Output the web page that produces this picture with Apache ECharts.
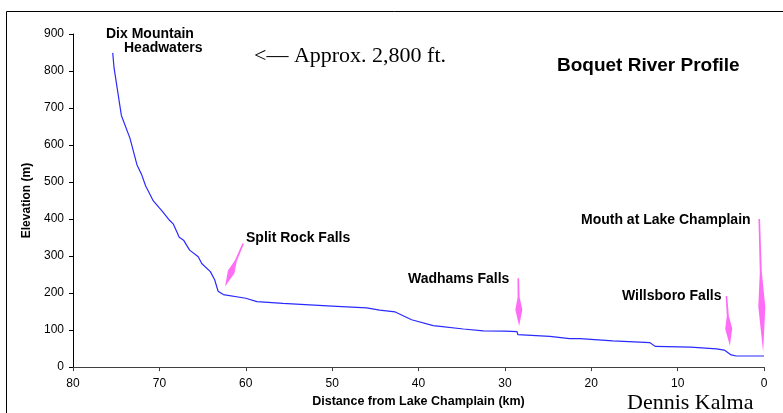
<!DOCTYPE html>
<html>
<head>
<meta charset="utf-8">
<script src="https://cdn.jsdelivr.net/npm/echarts@6/dist/echarts.min.js"></script>
<style>
  html, body { margin: 0; padding: 0; background: #fff; overflow: hidden; }
  #main { width: 783px; height: 413px; }
</style>
</head>
<body>
<div id="main"></div>
<script>
// river profile: distance from lake (km) and elevation (m)
var distKm = [75.4, 75.25, 74.4, 73.4, 72.6, 72.05, 71.6, 70.7, 70.0, 69.7, 68.8, 68.4, 67.7, 67.2, 66.5, 65.5, 65.1, 64.1, 63.6, 63.2, 62.6, 60.0, 58.7, 55.7, 50.0, 46.0, 44.5, 42.7, 40.8, 38.3, 37.5, 34.8, 32.5, 30.0, 28.6, 28.5, 24.8, 22.5, 21.3, 17.5, 13.2, 12.6, 8.5, 5.5, 4.6, 3.8, 3.2, 0];
var elevM = [849, 809, 680, 618, 547, 520, 490, 449, 430, 422, 396, 387, 351, 343, 316, 298, 280, 258, 236, 205, 196, 186, 177, 172, 165, 160, 154, 149, 128, 112, 110, 103, 98, 97, 96, 88, 83, 77, 77, 71, 66, 56, 54, 49, 46, 33, 30, 30];

// pink arrows: start (km, m) -> tip (km, m)
var arrowFromKm = [60.3, 28.45, 4.35, 0.55];
var arrowFromM = [334, 240, 192, 400];
var arrowToKm = [62.4, 28.35, 3.95, 0.1];
var arrowToM = [218, 111, 58, 41];

var xTicks = [0, 80, 10];   // min, max, step
var yTicks = [0, 900, 100];

var profile = distKm.map(function (d, i) { return [d, elevM[i]]; });
var arrows = arrowFromKm.map(function (d, i) {
  return [d, arrowFromM[i], arrowToKm[i], arrowToM[i]];
});

var chart = echarts.init(document.getElementById('main'));

function renderArrow(params, api) {
  var a = api.coord([api.value(0), api.value(1)]);
  var b = api.coord([api.value(2), api.value(3)]);
  var dx = b[0] - a[0], dy = b[1] - a[1];
  var len = Math.sqrt(dx * dx + dy * dy);
  var nx = -dy / len, ny = dx / len;
  function at(t, w) {
    return [a[0] + dx * t + nx * w, a[1] + dy * t + ny * w];
  }
  var pts = [
    at(0, 0.8), at(0.4, 1), at(0.66, 3.5), at(1, 0),
    at(0.66, -3.5), at(0.4, -1), at(0, -0.8)
  ];
  return {
    type: 'polygon',
    shape: { points: pts },
    style: { fill: '#ff5cf5', stroke: null, opacity: 0.9 }
  };
}

var boldLbl = 'bold 14px "Liberation Sans", Arial, sans-serif';

var option = {
  backgroundColor: '#ffffff',
  animation: false,
  grid: { left: 73, right: 19, top: 34, bottom: 41 },
  xAxis: {
    type: 'value',
    inverse: true,
    min: xTicks[0], max: xTicks[1], interval: xTicks[2],
    name: 'Distance from Lake Champlain (km)',
    nameLocation: 'middle',
    nameGap: 25,
    nameTextStyle: { fontFamily: 'Liberation Sans', fontWeight: 'bold', fontSize: 12.5, color: '#000' },
    axisLine: { lineStyle: { color: '#404040', width: 1 } },
    axisTick: { show: true, length: 4, lineStyle: { color: '#404040' } },
    axisLabel: { fontFamily: 'Liberation Sans', fontSize: 12, color: '#000', margin: 11 },
    splitLine: { show: false }
  },
  yAxis: {
    type: 'value',
    position: 'left',
    min: yTicks[0], max: yTicks[1], interval: yTicks[2],
    name: 'Elevation (m)',
    nameLocation: 'middle',
    nameGap: 33,
    nameTextStyle: { fontFamily: 'Liberation Sans', fontWeight: 'bold', fontSize: 12, color: '#000' },
    axisLine: { show: true, onZero: false, lineStyle: { color: '#000', width: 1 } },
    axisTick: { show: true, length: 4, lineStyle: { color: '#000' } },
    axisLabel: { fontFamily: 'Liberation Sans', fontSize: 12, color: '#000', margin: 9 },
    splitLine: { show: false }
  },
  graphic: [
    // chart frame: only the top and left edges show in the picture
    { type: 'line', shape: { x1: 6.5, y1: 11.5, x2: 783, y2: 11.5 },
      style: { stroke: '#000', lineWidth: 1 }, silent: true },
    { type: 'line', shape: { x1: 6.5, y1: 11.5, x2: 6.5, y2: 413 },
      style: { stroke: '#000', lineWidth: 1 }, silent: true },
    { type: 'text', left: 106, top: 27, style: { text: 'Dix Mountain', font: boldLbl, fill: '#000' } },
    { type: 'text', left: 124, top: 41, style: { text: 'Headwaters', font: boldLbl, fill: '#000' } },
    { type: 'text', left: 254, top: 45,
      style: { text: '<\u2014 Approx. 2,800 ft.', font: '22px "Liberation Serif", "Times New Roman", serif', fill: '#000' } },
    { type: 'text', left: 557, top: 56,
      style: { text: 'Boquet River Profile', font: 'bold 19px "Liberation Sans", Arial, sans-serif', fill: '#000' } },
    { type: 'text', left: 246, top: 231, style: { text: 'Split Rock Falls', font: boldLbl, fill: '#000' } },
    { type: 'text', left: 408, top: 272, style: { text: 'Wadhams Falls', font: boldLbl, fill: '#000' } },
    { type: 'text', left: 622, top: 289, style: { text: 'Willsboro Falls', font: boldLbl, fill: '#000' } },
    { type: 'text', left: 581, top: 213, style: { text: 'Mouth at Lake Champlain', font: boldLbl, fill: '#000' } },
    { type: 'text', left: 627, top: 392,
      style: { text: 'Dennis Kalma', font: '22px "Liberation Serif", "Times New Roman", serif', fill: '#000' } }
  ],
  series: [
    {
      type: 'line',
      data: profile,
      showSymbol: false,
      symbol: 'none',
      lineStyle: { color: '#2a2aff', width: 1.2 },
      z: 3
    },
    {
      type: 'custom',
      data: arrows,
      renderItem: renderArrow,
      encode: { x: [0, 2], y: [1, 3] },
      z: 4
    }
  ]
};

chart.setOption(option);
</script>
</body>
</html>
